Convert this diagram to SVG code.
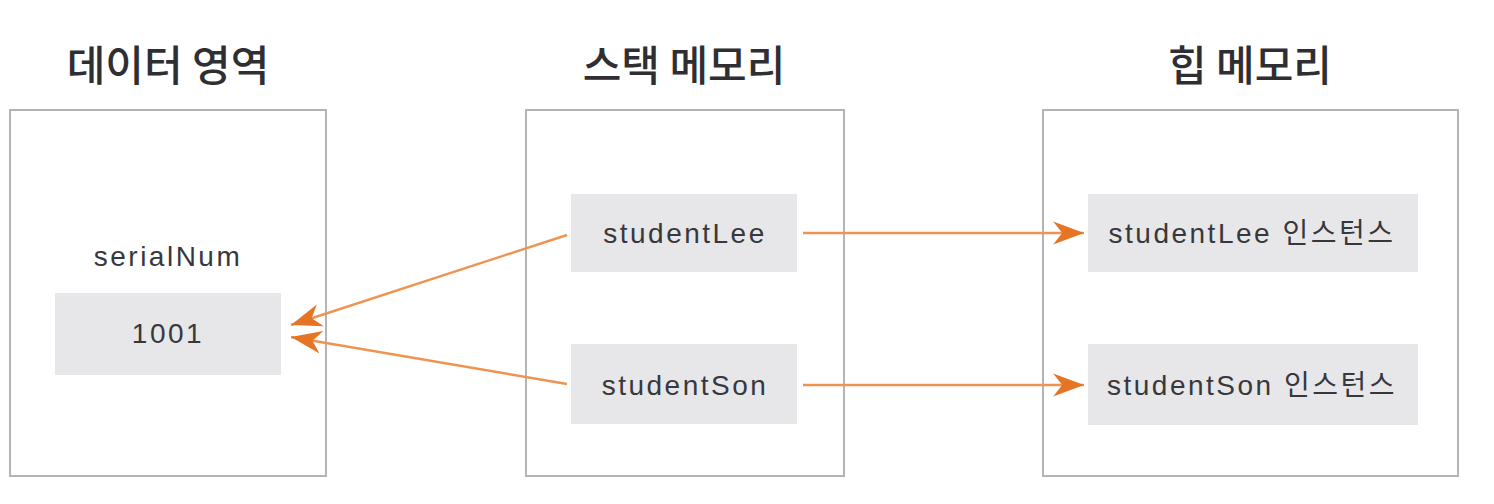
<svg xmlns="http://www.w3.org/2000/svg" width="1494" height="504" viewBox="0 0 1494 504">
<style>
.title{font-family:"Noto Sans CJK KR","Liberation Sans",sans-serif;font-size:42px;font-weight:500;fill:#2f2f33;text-anchor:middle}
.lbl{font-family:"Liberation Sans","Noto Sans CJK KR",sans-serif;font-size:28px;fill:#38383c;text-anchor:middle;letter-spacing:2.5px}
.area{fill:#ffffff;stroke:#b4b4b8;stroke-width:2}
.cell{fill:#e7e7e9}
.conn{stroke:#ee9450;stroke-width:2.4;fill:none}
</style>
<defs>
<marker id="ah" markerUnits="userSpaceOnUse" markerWidth="40" markerHeight="40" viewBox="-30 -15 35 30" refX="0" refY="0" orient="auto">
<path d="M0,0 L-27,-10 L-19,0 L-27,10 Z" fill="#e57424"/>
</marker>
</defs>
<rect width="1494" height="504" fill="#ffffff"/>
<g id="data-area">
<text class="title" x="168" y="81">데이터 영역</text>
<rect class="area" x="10" y="110" width="316" height="366"/>
<text class="lbl" x="168" y="266">serialNum</text>
</g>
<g id="serialNum-1001">
<rect class="cell" x="55" y="293" width="226" height="82"/>
<text class="lbl" x="168" y="343">1001</text>
</g>
<g id="stack-memory">
<text class="title" x="684" y="81">스택 메모리</text>
<rect class="area" x="526" y="110" width="318" height="366"/>
</g>
<g id="stack-studentLee">
<rect class="cell" x="571" y="194" width="226" height="78"/>
<text class="lbl" x="685" y="243">studentLee</text>
</g>
<g id="stack-studentSon">
<rect class="cell" x="571" y="344" width="226" height="80"/>
<text class="lbl" x="685" y="395">studentSon</text>
</g>
<g id="heap-memory">
<text class="title" x="1250" y="81">힙 메모리</text>
<rect class="area" x="1043" y="110" width="415" height="366"/>
</g>
<g id="heap-studentLee">
<rect class="cell" x="1088" y="194" width="330" height="78"/>
<text class="lbl" x="1252" y="243" letter-spacing="1">studentLee 인스턴스</text>
</g>
<g id="heap-studentSon">
<rect class="cell" x="1088" y="344" width="330" height="81"/>
<text class="lbl" x="1252" y="395" letter-spacing="1">studentSon 인스턴스</text>
</g>
<g id="connectors">
<line class="conn" x1="567" y1="235" x2="291" y2="325" marker-end="url(#ah)"/>
<line class="conn" x1="567" y1="384" x2="291" y2="337" marker-end="url(#ah)"/>
<line class="conn" x1="803" y1="233" x2="1084" y2="233" marker-end="url(#ah)"/>
<line class="conn" x1="803" y1="385" x2="1084" y2="385" marker-end="url(#ah)"/>
</g>
</svg>
